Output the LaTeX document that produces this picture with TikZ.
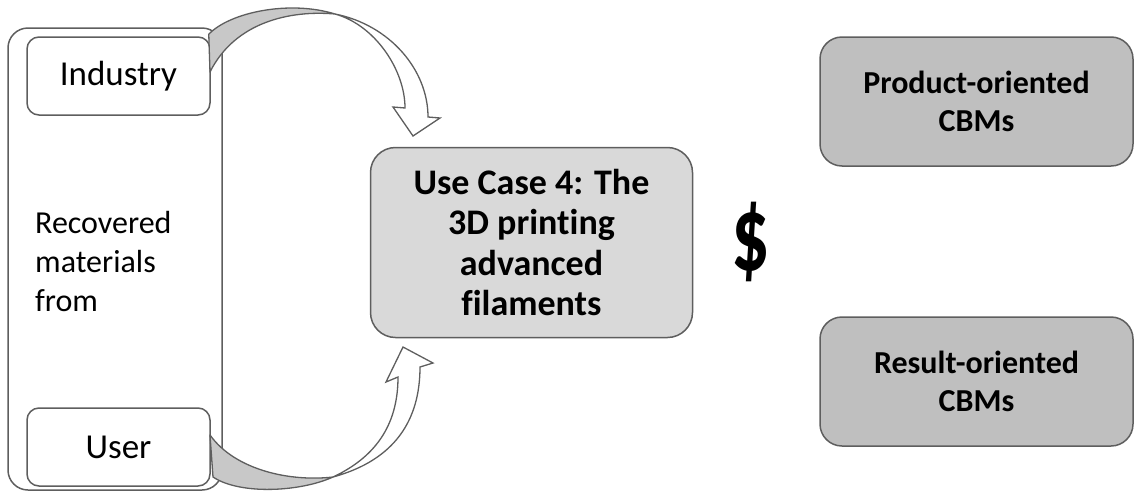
\documentclass[tikz,border=0pt]{standalone}
\usepackage{fontspec}
\setmainfont[Ligatures=NoCommon]{Carlito}
\usetikzlibrary{calc}
\definecolor{edgegray}{HTML}{5E5E5E}
\definecolor{centerfill}{HTML}{D9D9D9}
\definecolor{sidefill}{HTML}{BFBFBF}
\definecolor{bandgray}{HTML}{C8C8C8}
\begin{document}
\begin{tikzpicture}[x=1pt,y=-1pt,
  box/.style={draw=edgegray, line width=1.5pt, rounded corners=#1, inner sep=0pt, align=center},
  smalltxt/.style={font=\fontsize{35}{42}\selectfont},
  bandback/.style={fill=bandgray, draw=edgegray, line width=1.3pt, line join=round},
  bandfront/.style={fill=white, draw=edgegray, line width=1.3pt, line join=miter}]
\useasboundingbox (0,0) rectangle (1134,493);
% container
\node[box=20, minimum width=214pt, minimum height=462pt] (cont) at (115,259) {};
\node[box=12, minimum width=183pt, minimum height=78pt, smalltxt] (ind) at (118.5,76) {Industry};
\node[box=12, minimum width=183pt, minimum height=78pt, smalltxt] (usr) at (118.5,447) {User};
\node[anchor=west, align=left, inner sep=0pt, font=\fontsize{32}{39}\selectfont] (rec) at (35,261) {Recovered\\materials\\from};
% center
\node[box=25, fill=centerfill, minimum width=322pt, minimum height=190pt, font=\bfseries\fontsize{36}{40.5}\selectfont] (uc) at (531.5,242.5) {Use Case 4: The\\3D printing\\advanced\\filaments};
\node[inner sep=0pt, font=\bfseries\fontsize{76}{80}\selectfont] (dol) at (751,242) {\scalebox{1}[1.4]{\$}};
% right boxes
\node[box=22, fill=sidefill, minimum width=313pt, minimum height=129pt, font=\bfseries\fontsize{32}{38}\selectfont] (prod) at (976.5,101.5) {Product-oriented\\CBMs};
\node[box=22, fill=sidefill, minimum width=313pt, minimum height=129pt, font=\bfseries\fontsize{32}{38}\selectfont] (res) at (976.5,381.5) {Result-oriented\\CBMs};
% top curved arrow: Industry -> Use Case
\coordinate (ts) at ($(ind.north east)+(-2,-2)$);
\coordinate (tp) at (335,14);
\draw[bandback] (ts) .. controls (230,12) and (290,0) .. (tp)
  .. controls (290,10) and (235,22) .. (210,72) -- cycle;
\draw[bandfront] (tp) .. controls (390,25) and (428,70) .. (428,117)
  -- (440,118) -- (413,136) -- (393,107) -- (405,108)
  .. controls (405,70) and (375,25) .. (tp) -- cycle;
% bottom curved arrow: User -> Use Case
\coordinate (bp) at (333,477);
\draw[bandback] (210,435) .. controls (235,470) and (290,482) .. (bp)
  .. controls (300,492) and (240,495) .. (213,477) -- cycle;
\draw[bandfront] (bp) .. controls (395,460) and (420,420) .. (420,367)
  -- (433,363) -- (403,347) -- (386,382) -- (398,377)
  .. controls (398,420) and (380,455) .. (bp) -- cycle;
\end{tikzpicture}
\end{document}
